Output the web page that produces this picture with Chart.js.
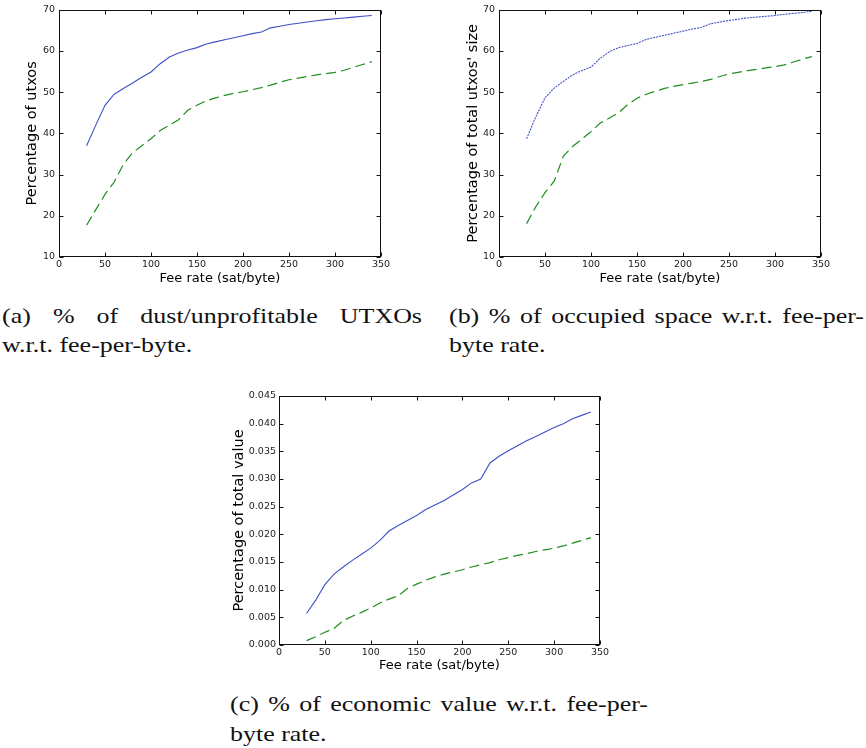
<!DOCTYPE html>
<html><head><meta charset="utf-8">
<script src="https://cdn.jsdelivr.net/npm/chart.js@4.4.1/dist/chart.umd.min.js"></script>
<style>
html,body{margin:0;padding:0;background:#fff;}
body{width:866px;height:748px;position:relative;overflow:hidden;}
canvas{position:absolute;}
.cap{position:absolute;font-family:"Liberation Serif","Times New Roman",serif;font-size:22px;line-height:22px;color:#111;white-space:nowrap;transform-origin:0 0;}
.just{text-align:justify;text-align-last:justify;white-space:normal;overflow:visible;height:22px;}
</style></head><body>
<canvas id="ca" width="430" height="290" style="left:0px;top:0px"></canvas>
<canvas id="cb" width="430" height="290" style="left:436px;top:0px"></canvas>
<canvas id="cc" width="430" height="300" style="left:200px;top:380px"></canvas>

<div class="cap just" id="a1" style="left:2px;top:305px">(a) % of dust/unprofitable UTXOs</div>
<div class="cap" id="a2" style="left:2px;top:334px">w.r.t. fee-per-byte.</div>
<div class="cap just" id="b1" style="left:449px;top:305px">(b) % of occupied space w.r.t. fee-per-</div>
<div class="cap" id="b2" style="left:449px;top:334px">byte rate.</div>
<div class="cap just" id="c1" style="left:230px;top:693px">(c) % of economic value w.r.t. fee-per-</div>
<div class="cap" id="c2" style="left:230px;top:723px">byte rate.</div>

<script>
// ---- data ----
const feeRates = [30,40,50,60,70,80,90,100,110,120,130,140,150,160,170,180,190,200,210,220,230,240,250,260,270,280,290,300,310,320,330,340];

// (a) percentage of utxos
const utxosBlue  = [37.0,42.0,46.8,49.5,50.9,52.2,53.6,54.9,56.9,58.5,59.5,60.2,60.8,61.7,62.2,62.7,63.2,63.7,64.2,64.6,65.6,66.0,66.4,66.7,67.0,67.3,67.6,67.8,68.0,68.2,68.4,68.6];
const utxosGreen = [17.7,21.5,25.2,28.2,32.5,35.3,37.0,38.7,40.7,42.0,43.3,45.6,46.8,47.9,48.6,49.2,49.7,50.1,50.6,51.1,51.7,52.4,53.0,53.4,53.8,54.2,54.5,54.8,55.3,56.0,56.7,57.4];

// (b) percentage of total utxos' size
const sizeBlue  = [38.7,44.0,48.6,51.0,52.6,54.2,55.2,56.1,58.2,59.8,60.8,61.3,61.8,62.8,63.3,63.8,64.3,64.8,65.3,65.7,66.6,67.0,67.4,67.7,68.0,68.2,68.4,68.6,68.9,69.1,69.3,69.6];
const sizeGreen = [18.1,22.2,25.6,28.4,34.5,36.8,38.6,40.4,42.5,43.7,45.0,47.0,48.5,49.5,50.2,50.9,51.4,51.8,52.2,52.6,53.1,53.8,54.4,54.8,55.2,55.5,55.9,56.2,56.6,57.3,58.0,58.6];

// (c) percentage of total value
const valueBlue  = [0.0057,0.0081,0.0109,0.0128,0.0141,0.0153,0.0164,0.0175,0.0189,0.0206,0.0216,0.0225,0.0234,0.0245,0.0253,0.0261,0.0271,0.0281,0.0293,0.0300,0.0329,0.0341,0.0351,0.0360,0.0369,0.0377,0.0385,0.0393,0.0400,0.0409,0.0415,0.0421];
const valueGreen = [0.0008,0.0015,0.0023,0.0030,0.0044,0.0052,0.0059,0.0067,0.0076,0.0083,0.0089,0.0102,0.0110,0.0117,0.0123,0.0128,0.0132,0.0136,0.0141,0.0145,0.0149,0.0154,0.0158,0.0162,0.0165,0.0169,0.0172,0.0175,0.0179,0.0184,0.0189,0.0194];

const xAxisLabel = 'Fee rate (sat/byte)';
const yLabelA = 'Percentage of utxos';
const yLabelB = "Percentage of total utxos' size";
const yLabelC = 'Percentage of total value';

// ---- captions: widen serif text to mimic Computer Modern ----
const CAP_SCALE = 1.18;
const capWidths = {a1:420, b1:415, c1:418};
['a1','a2','b1','b2','c1','c2'].forEach(id => {
  const el = document.getElementById(id);
  el.style.transform = 'scaleX(' + CAP_SCALE + ')';
  if (capWidths[id]) el.style.width = (capWidths[id] / CAP_SCALE) + 'px';
});

// ---- chart helpers ----
const BLUE = '#3e50c6';
const GREEN = '#1f8c1f';

const frameTicks = {
  id: 'frameTicks',
  afterDatasetsDraw(chart) {
    const {ctx, chartArea: a, scales} = chart;
    const x = scales.x, y = scales.y;
    ctx.save();
    ctx.strokeStyle = '#111';
    ctx.lineWidth = 1;
    const L = Math.round(a.left) + 0.5, R = Math.round(a.right) - 0.5;
    const T = Math.round(a.top) + 0.5, B = Math.round(a.bottom) - 0.5;
    ctx.strokeRect(L, T, R - L, B - T);
    const len = 4;
    ctx.beginPath();
    x.ticks.forEach(t => {
      const px = Math.round(x.getPixelForValue(t.value)) + 0.5;
      ctx.moveTo(px, B); ctx.lineTo(px, B - len);
      ctx.moveTo(px, T); ctx.lineTo(px, T + len);
    });
    y.ticks.forEach(t => {
      const py = Math.round(y.getPixelForValue(t.value)) + 0.5;
      ctx.moveTo(L, py); ctx.lineTo(L + len, py);
      ctx.moveTo(R, py); ctx.lineTo(R - len, py);
    });
    ctx.stroke();
    ctx.restore();
  }
};

function pts(ys) { return feeRates.map((f, i) => ({x: f, y: ys[i]})); }

function makeChart(id, cfg) {
  const canvas = document.getElementById(id);
  const W = canvas.width, H = canvas.height;
  new Chart(canvas, {
    type: 'line',
    data: {
      datasets: [
        {data: pts(cfg.blue), borderColor: BLUE, borderWidth: 1.1, borderDash: cfg.blueDash || [], pointRadius: 0, fill: false, tension: 0},
        {data: pts(cfg.green), borderColor: GREEN, borderWidth: 1.2, borderDash: [10, 5], pointRadius: 0, fill: false, tension: 0}
      ]
    },
    options: {
      responsive: false,
      maintainAspectRatio: false,
      animation: false,
      devicePixelRatio: 1,
      events: [],
      layout: {padding: {left: 0, top: cfg.T, right: W - cfg.R, bottom: 0}},
      plugins: {legend: {display: false}, tooltip: {enabled: false}},
      scales: {
        x: {
          type: 'linear', min: 0, max: 350,
          afterFit(s) { s.height = H - cfg.B; },
          grid: {display: false, drawTicks: false},
          border: {display: false},
          ticks: {stepSize: 50, autoSkip: false, maxRotation: 0, padding: 2, color: '#222',
                  font: {family: 'DejaVu Sans', size: 9.5}},
          title: {display: true, text: xAxisLabel, color: '#000',
                  font: {family: 'DejaVu Sans', size: 13}, padding: {top: 0, bottom: cfg.xtp}}
        },
        y: {
          type: 'linear', min: cfg.ymin, max: cfg.ymax,
          afterFit(s) { s.width = cfg.L; },
          grid: {display: false, drawTicks: false},
          border: {display: false},
          ticks: {stepSize: cfg.ystep, autoSkip: false, padding: cfg.ytickPad, color: '#222',
                  font: {family: 'DejaVu Sans', size: 9.5},
                  callback: cfg.yfmt},
          title: {display: true, text: cfg.ylabel, color: '#000',
                  font: {family: 'DejaVu Sans', size: 14.5}, padding: {top: cfg.ytp, bottom: 0}}
        }
      }
    },
    plugins: [frameTicks]
  });
}

makeChart('ca', {blue: utxosBlue, green: utxosGreen, L: 59, T: 7, R: 381, B: 257,
  ymin: 10, ymax: 70, ystep: 10, ylabel: yLabelA, ytp: 24, xtp: 4, ytickPad: 4,
  yfmt: v => String(Math.round(v))});
makeChart('cb', {blue: sizeBlue, green: sizeGreen, blueDash: [2, 1], L: 63, T: 7, R: 385, B: 257,
  ymin: 10, ymax: 70, ystep: 10, ylabel: yLabelB, ytp: 29, xtp: 4, ytickPad: 4,
  yfmt: v => String(Math.round(v))});
makeChart('cc', {blue: valueBlue, green: valueGreen, L: 79, T: 16, R: 400, B: 265,
  ymin: 0, ymax: 0.045, ystep: 0.005, ylabel: yLabelC, ytp: 31, xtp: 7, ytickPad: 3,
  yfmt: v => v.toFixed(3)});
</script>
</body></html>
